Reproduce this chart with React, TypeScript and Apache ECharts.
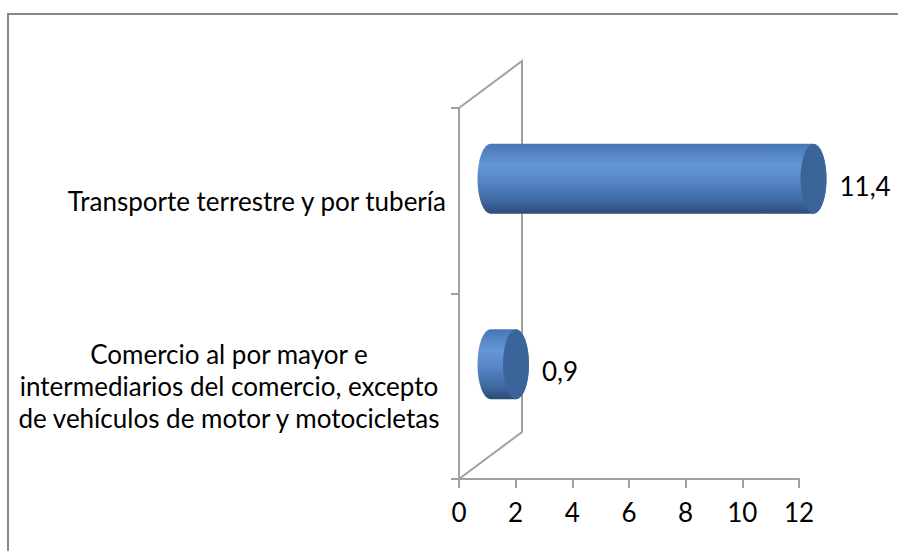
import React, { useEffect, useRef } from "react";
import * as echarts from "echarts";

const categories: string[] = [
  "Comercio al por mayor e\nintermediarios del comercio, excepto\nde vehículos de motor y motocicletas",
  "Transporte terrestre y por tubería",
];
const values: number[] = [0.9, 11.4];
const xTicks = { min: 0, max: 12, interval: 2 };

const FONT = "Lato";
const FS = 26;
const GL = 459; // grid left (front plane)
const GT = 108;
const GW = 340;
const GH = 371;
const DX = 63; // depth offset
const DY = -47;
const LINE = "#a0a0a0";

export default function App() {
  const ref = useRef<HTMLDivElement>(null);
  useEffect(() => {
    if (!ref.current) return;
    const chart = echarts.init(ref.current, undefined, { renderer: "svg" });
    const rx = 13;
    const ry = 35;
    const option: any = {
      animation: false,
      backgroundColor: "#ffffff",
      textStyle: { fontFamily: FONT },
      grid: { left: GL, top: GT, width: GW, height: GH, containLabel: false },
      xAxis: {
        type: "value",
        min: xTicks.min,
        max: xTicks.max,
        interval: xTicks.interval,
        splitLine: { show: false },
        axisLine: { show: true, lineStyle: { color: LINE, width: 2 } },
        axisTick: { show: true, length: 9, lineStyle: { color: LINE, width: 2 } },
        axisLabel: { color: "#000", fontSize: FS, fontFamily: FONT, margin: 20 },
      },
      yAxis: {
        type: "category",
        data: categories,
        axisLine: { show: true, lineStyle: { color: LINE, width: 2 } },
        axisTick: { show: true, length: 8, lineStyle: { color: LINE, width: 2 } },
        splitLine: { show: false },
        axisLabel: {
          color: "#000",
          fontSize: FS,
          fontFamily: FONT,
          margin: 13,
          align: "right",
          lineHeight: 32,
          formatter: (v: string) =>
            v.indexOf("\n") >= 0
              ? v
                  .split("\n")
                  .map((l) => `{c|${l}}`)
                  .join("\n")
              : v,
          rich: {
            c: {
              width: 434,
              align: "center",
              fontSize: FS,
              fontFamily: FONT,
              color: "#000",
              lineHeight: 32,
            },
          },
        },
      },
      graphic: [
        {
          type: "rect",
          z: 0,
          shape: { x: 8, y: 14, width: 1000, height: 1000 },
          style: { fill: "none", stroke: "#878787", lineWidth: 2 },
        },
        {
          type: "polyline",
          z: 1,
          shape: {
            points: [
              [GL, GT],
              [GL + DX, GT + DY],
              [GL + DX, GT + GH + DY],
              [GL, GT + GH],
            ],
          },
          style: { fill: "none", stroke: LINE, lineWidth: 2 },
        },
      ],
      series: [
        {
          type: "custom",
          z: 5,
          data: values.map((v, i) => [v, i]),
          renderItem: (params: any, api: any) => {
            const v = api.value(0);
            const idx = api.value(1);
            const p0 = api.coord([0, idx]);
            const p1 = api.coord([v, idx]);
            const x0 = p0[0] + DX / 2;
            const x1 = p1[0] + DX / 2;
            const cy = p0[1] + DY / 2 + 1.5;
            const top = cy - ry;
            const bot = cy + ry;
            const body =
              `M ${x0} ${top} L ${x1} ${top} A ${rx} ${ry} 0 0 1 ${x1} ${bot} ` +
              `L ${x0} ${bot} A ${rx} ${ry} 0 0 1 ${x0} ${top} Z`;
            const cap =
              `M ${x1} ${top} A ${rx} ${ry} 0 0 1 ${x1} ${bot} A ${rx} ${ry} 0 0 1 ${x1} ${top} Z`;
            const label = String(v).replace(".", ",");
            return {
              type: "group",
              children: [
                {
                  type: "path",
                  shape: { pathData: body },
                  style: {
                    fill: new echarts.graphic.LinearGradient(0, 0, 0, 1, [
                      { offset: 0, color: "#4676b8" },
                      { offset: 0.3, color: "#6596d6" },
                      { offset: 0.55, color: "#5585c6" },
                      { offset: 0.85, color: "#3c659b" },
                      { offset: 1, color: "#2a4b75" },
                    ]),
                  },
                },
                {
                  type: "path",
                  shape: { pathData: cap },
                  style: {
                    fill: new echarts.graphic.LinearGradient(0, 0, 1, 0, [
                      { offset: 0, color: "#3a6499" },
                      { offset: 1, color: "#3b6698" },
                    ]),
                  },
                },
                {
                  type: "text",
                  style: {
                    text: label,
                    x: x1 + rx + 13,
                    y: p0[1] - 15,
                    align: "left",
                    verticalAlign: "middle",
                    fontSize: FS,
                    fontFamily: FONT,
                    fill: "#000",
                  },
                },
              ],
            };
          },
        },
      ],
    };
    chart.setOption(option);
    return () => chart.dispose();
  }, []);
  return (
    <div
      ref={ref}
      style={{ position: "fixed", left: 0, top: 0, width: 898, height: 551 }}
    />
  );
}
